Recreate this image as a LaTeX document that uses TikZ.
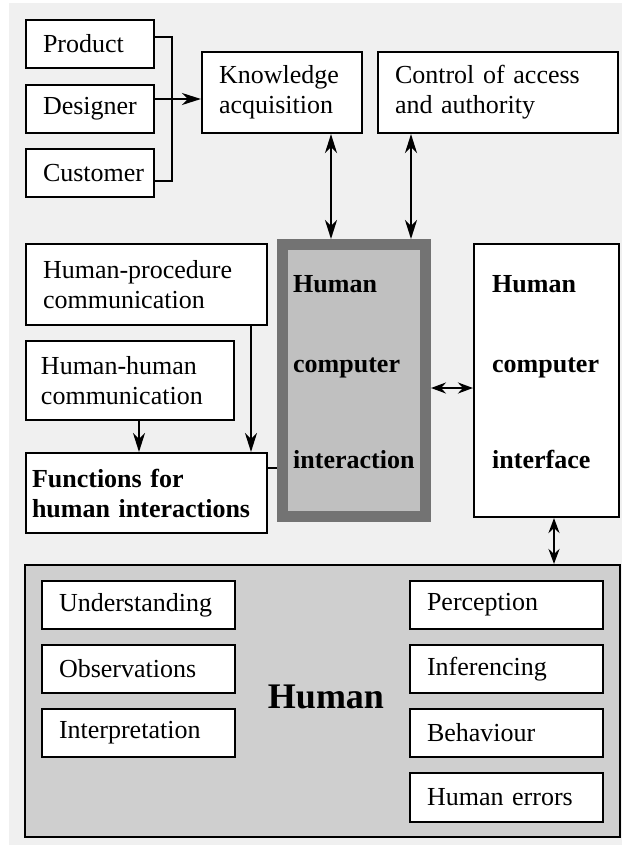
\documentclass[tikz,border=0pt]{standalone}
\usepackage{fontspec}
\setmainfont{Liberation Serif}
\usetikzlibrary{arrows.meta}
\definecolor{bggray}{RGB}{240,240,240}
\definecolor{hcifill}{RGB}{192,192,192}
\definecolor{hciedge}{RGB}{115,115,115}
\definecolor{humfill}{RGB}{207,207,207}
\tikzset{
  blok/.style={draw, fill=white, line width=2.1pt, align=left, inner xsep=17pt, inner ysep=0pt},
  lijn/.style={line width=2.3pt},
  kop/.style={{Stealth[length=19pt,width=12pt,inset=6pt]}-{Stealth[length=19pt,width=12pt,inset=6pt]}},
  kopje/.style={{Stealth[length=15pt,width=11pt,inset=5pt]}-{Stealth[length=15pt,width=11pt,inset=5pt]}},
}
\begin{document}
\begin{tikzpicture}[x=1pt, y=-1pt, font=\fontsize{26}{30}\selectfont, line join=miter,
  >={Stealth[length=19pt,width=12pt,inset=6pt]}]

  % Achtergrond
  \useasboundingbox (0,0) rectangle (622,847);
  \fill[bggray] (9,3) rectangle (622,845);

  % Bronnen van kennis
  \node[blok, minimum width=128pt, minimum height=48pt, text width=94pt] (prd) at (90,44) {Product};
  \node[blok, minimum width=128pt, minimum height=48pt, text width=94pt] (dsg) at (90,109) {Designer};
  \node[blok, minimum width=128pt, minimum height=48pt, text width=94pt] (cst) at (90,173) {Customer};
  \node[blok, minimum width=160pt, minimum height=81pt, text width=126pt] (kno) at (282,92.5) {Knowledge\\acquisition};
  \node[blok, minimum width=240pt, minimum height=81pt, text width=206pt] (ctl) at (498,92.5) {Control of access\\and authority};

  % Communicatie links
  \node[blok, minimum width=241pt, minimum height=81pt, text width=207pt] (hpc) at (146.5,284.5) {Human-procedure\\communication};
  \node[blok, minimum width=208pt, minimum height=79pt, inner xsep=15pt, text width=178pt] (hhc) at (130,380.5) {Human-human\\communication};
  \node[blok, minimum width=241pt, minimum height=80pt, inner xsep=6pt, text width=229pt, font=\fontsize{26}{30}\selectfont\bfseries] (fhi) at (146.5,493) {Functions for\\human interactions};

  % Mens-computer interactie en interface
  \node[draw=hciedge, fill=hcifill, line width=11pt, minimum width=143pt, minimum height=272pt] (hci) at (354,380.5) {};
  \node[anchor=base west, font=\fontsize{26}{30}\selectfont\bfseries, inner sep=0pt] (hciA) at (293,292) {Human};
  \node[anchor=base west, font=\fontsize{26}{30}\selectfont\bfseries, inner sep=0pt] (hciB) at (293,372) {computer};
  \node[anchor=base west, font=\fontsize{26}{30}\selectfont\bfseries, inner sep=0pt] (hciC) at (293,468) {interaction};
  \node[blok, minimum width=145pt, minimum height=273pt] (hif) at (546.5,380.5) {};
  \node[anchor=base west, font=\fontsize{26}{30}\selectfont\bfseries, inner sep=0pt] (hifA) at (492,292) {Human};
  \node[anchor=base west, font=\fontsize{26}{30}\selectfont\bfseries, inner sep=0pt] (hifB) at (492,372) {computer};
  \node[anchor=base west, font=\fontsize{26}{30}\selectfont\bfseries, inner sep=0pt] (hifC) at (492,468) {interface};

  % De mens
  \node[draw, fill=humfill, line width=2.1pt, minimum width=595pt, minimum height=272pt] (hum) at (322.5,701) {};
  \node[font=\fontsize{36}{40}\selectfont\bfseries] (humT) at (326,697) {Human};
  \node[blok, minimum width=193pt, minimum height=48pt, text width=159pt] (und) at (138.5,605) {Understanding};
  \node[blok, minimum width=193pt, minimum height=48pt, text width=159pt] (obs) at (138.5,669) {Observations};
  \node[blok, minimum width=193pt, minimum height=48pt, text width=159pt] (itp) at (138.5,733) {Interpretation};
  \node[blok, minimum width=193pt, minimum height=48pt, text width=159pt] (per) at (506.5,605) {Perception};
  \node[blok, minimum width=193pt, minimum height=48pt, text width=159pt] (inf) at (506.5,669) {Inferencing};
  \node[blok, minimum width=193pt, minimum height=48pt, text width=159pt] (beh) at (506.5,733) {Behaviour};
  \node[blok, minimum width=193pt, minimum height=49pt, text width=159pt] (her) at (506.5,797.5) {Human errors};

  % Verbindingen
  \draw[lijn] ([yshift=7pt]prd.east) -- ++(17,0) |- ([yshift=-8pt]cst.east);
  \coordinate (dsgout) at ([yshift=10pt]dsg.east);
  \draw[lijn, ->] (dsgout) -- (dsgout -| kno.west);
  \draw[lijn, kop] ([xshift=49pt]kno.south) -- ([xshift=49pt]kno.south |- hci.north);
  \draw[lijn, kop] ([xshift=-87pt]ctl.south) -- ([xshift=-87pt]ctl.south |- hci.north);
  \draw[lijn, ->] ([xshift=104.5pt]hpc.south) -- ([xshift=104.5pt]hpc.south |- fhi.north);
  \draw[lijn, ->] ([xshift=9pt]hhc.south) -- ([xshift=9pt]hhc.south |- fhi.north);
  \draw[lijn] ([yshift=25pt]fhi.east) -- ([yshift=25pt]fhi.east -| hci.west);
  \draw[lijn, kopje] ([yshift=-7.5pt]hci.east) -- ([yshift=-7.5pt]hci.east -| hif.west);
  \draw[lijn, kopje] ([xshift=7.5pt]hif.south) -- ([xshift=7.5pt]hif.south |- hum.north);

\end{tikzpicture}
\end{document}
